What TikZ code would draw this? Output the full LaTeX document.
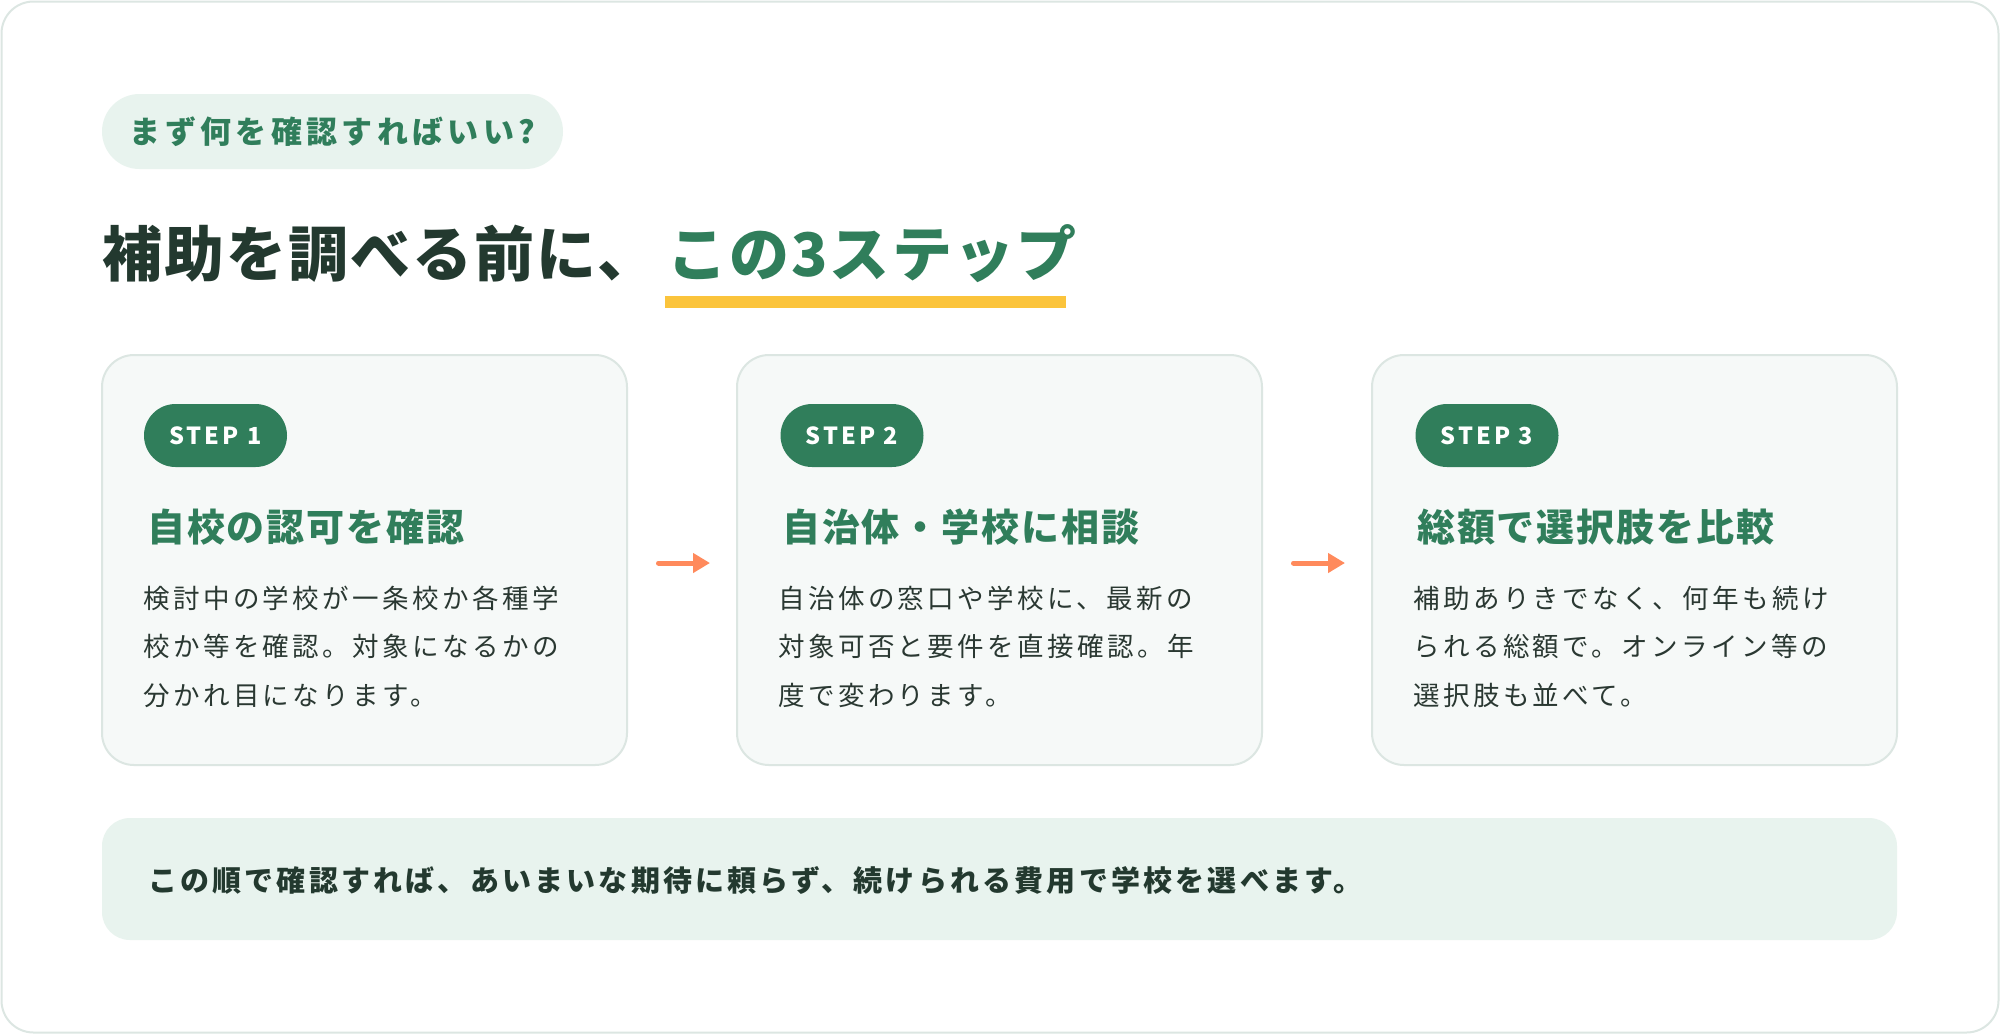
\documentclass[tikz,border=0pt]{standalone}
\usepackage{fontspec}
\usetikzlibrary{arrows.meta}
\newfontfamily\fPill{Noto Sans CJK JP}[LetterSpace=14]
\newfontfamily\fTitle{Noto Sans CJK JP}[LetterSpace=3.5]
\newfontfamily\fHead{Noto Sans CJK JP}[LetterSpace=5]
\newfontfamily\fBody{Noto Sans CJK JP}[LetterSpace=13]
\newfontfamily\fBadge{Noto Sans CJK JP}[LetterSpace=13]
\newfontfamily\fNote{Noto Sans CJK JP}[LetterSpace=11]
\definecolor{gMain}{HTML}{307E5B}
\definecolor{gDark}{HTML}{23392F}
\definecolor{gBody}{HTML}{2A3832}
\definecolor{gPale}{HTML}{E8F3EE}
\definecolor{gCard}{HTML}{F6F9F8}
\definecolor{gLine}{HTML}{DCE6E2}
\definecolor{gYellow}{HTML}{FBC43C}
\definecolor{gOrange}{HTML}{FF8A5C}
\tikzset{
  frame/.style={draw=gLine, line width=2pt, fill=white, rounded corners=32pt, inner sep=0, outer sep=0},
  card/.style={draw=gLine, line width=2pt, fill=gCard, rounded corners=32pt, minimum width=525pt, minimum height=410pt, inner sep=0, outer sep=0},
  badge/.style={fill=gMain, text=white, rounded corners=31.5pt, minimum width=143pt, minimum height=63pt, inner sep=0, outer sep=0, font=\fBadge\bfseries\fontsize{23.5pt}{26pt}\selectfont},
  pill/.style={fill=gPale, text=gMain, rounded corners=37.5pt, minimum width=461pt, minimum height=75pt, inner sep=0, outer sep=0, font=\fPill\bfseries\fontsize{31pt}{34pt}\selectfont},
  banner/.style={fill=gPale, rounded corners=28pt, minimum width=1795pt, minimum height=122pt, inner sep=0, outer sep=0},
  head/.style={anchor=base west, inner sep=0, text=gMain, font=\fHead\bfseries\fontsize{38pt}{40pt}\selectfont},
  body/.style={anchor=base west, inner sep=0, text=gBody, font=\fBody\fontsize{26.5pt}{30pt}\selectfont},
  arr/.style={draw=gOrange, line width=5pt, line cap=round, -{Triangle[length=17pt,width=19pt]}},
}
\begin{document}
\begin{tikzpicture}[x=1pt,y=-1pt]
\useasboundingbox (0,0) rectangle (2000,1034);
\node[frame, minimum width=1997pt, minimum height=1031pt] (frame) at (1000,517) {};
% top pill
\node[pill] (pill) at (332.5,131.5) {まず何を確認すればいい?};
% title
\node[anchor=base west, inner sep=0, text=gDark, font=\fTitle\bfseries\fontsize{60pt}{64pt}\selectfont] (title1) at (102,276) {補助を調べる前に、};
\node[anchor=base west, inner sep=0, text=gMain, font=\fTitle\bfseries\fontsize{60pt}{64pt}\selectfont] (title2) at (667,276) {この3ステップ};
\node[fill=gYellow, minimum width=401pt, minimum height=12pt, inner sep=0, outer sep=0] (ul) at (865.5,302) {};
% cards
\node[card] (card1) at (364.5,560) {};
\node[card] (card2) at (999.5,560) {};
\node[card] (card3) at (1634.5,560) {};
% badges
\node[badge] (badge1) at (215.5,435.5) {STEP 1};
\node[badge] (badge2) at (852,435.5) {STEP 2};
\node[badge] (badge3) at (1487,435.5) {STEP 3};
% headings
\node[head] (head1) at (147,541.5) {自校の認可を確認};
\node[head] (head2) at (782,541.5) {自治体・学校に相談};
\node[head] (head3) at (1417,541.5) {総額で選択肢を比較};
% body texts
\node[body] (b11) at (143,608) {検討中の学校が一条校か各種学};
\node[body] (b12) at (143,656) {校か等を確認。対象になるかの};
\node[body] (b13) at (143,705) {分かれ目になります。};
\node[body] (b21) at (778,608) {自治体の窓口や学校に、最新の};
\node[body] (b22) at (778,656) {対象可否と要件を直接確認。年};
\node[body] (b23) at (778,705) {度で変わります。};
\node[body] (b31) at (1413,608) {補助ありきでなく、何年も続け};
\node[body] (b32) at (1413,656) {られる総額で。オンライン等の};
\node[body] (b33) at (1413,705) {選択肢も並べて。};
% arrows
\draw[arr] ([xshift=31.5pt,yshift=-3pt]card1.east) -- ([xshift=-27pt,yshift=-3pt]card2.west);
\draw[arr] ([xshift=31.5pt,yshift=-3pt]card2.east) -- ([xshift=-27pt,yshift=-3pt]card3.west);
% bottom banner
\node[banner] (banner) at (999.5,879) {};
\node[anchor=base west, inner sep=0, text=gDark, font=\fNote\bfseries\fontsize{29pt}{32pt}\selectfont] (note) at (148,891) {この順で確認すれば、あいまいな期待に頼らず、続けられる費用で学校を選べます。};
\end{tikzpicture}
\end{document}
